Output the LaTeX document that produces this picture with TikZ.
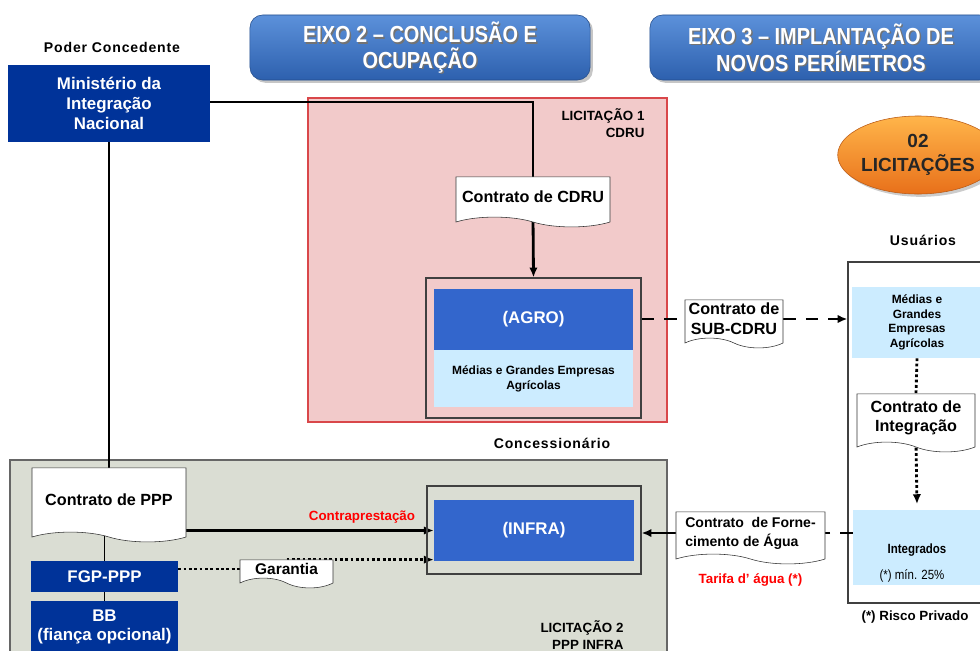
\documentclass[tikz,border=0pt]{standalone}
\usepackage{fontspec}
\setmainfont{Liberation Sans}
\newfontfamily\narrowfont[FakeStretch=0.86]{Liberation Sans}
\newfontfamily\widefont[LetterSpace=6]{Liberation Sans}
\usepackage{tikz}
\usetikzlibrary{positioning,arrows.meta,shapes.geometric,shapes.symbols,shadows}

\definecolor{mindark}{HTML}{003399}
\definecolor{agroblue}{HTML}{3366CC}
\definecolor{paleblue}{HTML}{CCECFF}
\definecolor{pinkfill}{HTML}{F2CACA}
\definecolor{pinkline}{HTML}{D9474A}
\definecolor{grayfill}{HTML}{DADDD3}
\definecolor{headtop}{HTML}{5C91DA}
\definecolor{headbot}{HTML}{2D60AE}
\definecolor{orgtop}{HTML}{FFB54A}
\definecolor{orgbot}{HTML}{E8701A}

\pgfdeclarelayer{bg}
\pgfdeclarelayer{lines}
\pgfsetlayers{bg,lines,main}

\tikzset{
  darkbox/.style={fill=mindark, text=white, align=center, inner sep=0pt,
    font=\bfseries\fontsize{12}{14}\selectfont},
  doc/.style={tape, tape bend top=none, tape bend bottom=out and in, tape bend height=7pt,
    draw=black!80, fill=white, align=center, inner sep=0pt,
    font=\bfseries\fontsize{11.5}{14}\selectfont},
  headbox/.style={rounded corners=9pt, top color=headtop, bottom color=headbot, draw=headbot!80!black,
    inner sep=0pt, drop shadow={opacity=.45, shadow xshift=2pt, shadow yshift=-2pt}},
  headtext/.style={text=white, align=center, font=\narrowfont\bfseries\fontsize{16.5}{18}\selectfont},
  headshadow/.style={headtext, text=black!55},
  frame/.style={draw=black!75, line width=.8pt, inner sep=0pt},
  pale/.style={fill=paleblue, align=center, inner sep=0pt},
  title/.style={font=\widefont\bfseries\fontsize{10}{12}\selectfont},
  lic/.style={align=right, font=\bfseries\fontsize{9.5}{12}\selectfont},
  redlabel/.style={text=red, font=\bfseries\fontsize{9.5}{11}\selectfont},
  thickline/.style={line width=2pt},
  thickarrow/.style={line width=2pt, -{Latex[length=7pt,width=6pt]}},
  dashedarrow/.style={line width=2pt, dash pattern=on 9pt off 7pt},
  dotline/.style={line width=2pt, dash pattern=on 2pt off 1.8pt},
}

\begin{document}
\begin{tikzpicture}[x=0.025cm, y=-0.025cm]
  \useasboundingbox (0,0) rectangle (980,651);

  % regions
  \begin{pgfonlayer}{bg}
    \draw[pinkline, fill=pinkfill, line width=.8pt] (308,98) rectangle (667,422);
    \draw[black!60, fill=grayfill, line width=.8pt] (10,460) rectangle (667,665);
    \node[frame, fill=white, minimum width=3.7cm, minimum height=8.525cm] (users) at (922,432.5) {};
  \end{pgfonlayer}

  % headers
  \node[headbox, minimum width=8.5cm, minimum height=1.625cm] (eixo2) at (420,47.5) {};
  \node[headshadow] (eixo2s) at (421.5,49) {EIXO 2 – CONCLUSÃO E\\OCUPAÇÃO};
  \node[headtext] (eixo2t) at (eixo2) {EIXO 2 – CONCLUSÃO E\\OCUPAÇÃO};
  \node[headbox, minimum width=8.55cm, minimum height=1.625cm] (eixo3) at (821,47.5) {};
  \node[headshadow] (eixo3s) at (822.5,49) {EIXO 3 – IMPLANTAÇÃO DE\\NOVOS PERÍMETROS};
  \node[headtext] (eixo3t) at (eixo3) {EIXO 3 – IMPLANTAÇÃO DE\\NOVOS PERÍMETROS};
  \node[ellipse, minimum width=3.4cm, minimum height=1.95cm, top color=orgtop, bottom color=orgbot,
    draw=orgbot!80!black, align=center, inner sep=0pt, text=black!85,
    font=\bfseries\fontsize{13.5}{17}\selectfont,
    drop shadow={opacity=.4, shadow xshift=2pt, shadow yshift=-2pt}] (licit) at (918,155)
    {02\\LICITAÇÕES};

  % poder concedente
  \node[darkbox, minimum width=5.05cm, minimum height=1.925cm] (min) at (109,103.5)
    {Ministério da\\Integração\\Nacional};
  \node[title] (poder) at (112,47) {Poder Concedente};

  % licitacao 1
  \node[lic] (lic1) at (603,123) {LICITAÇÃO 1\\CDRU};
  \node[doc, minimum width=3.85cm, minimum height=1.25cm] (cdru) at (533,197) {Contrato de CDRU};
  \node[frame, minimum width=5.375cm, minimum height=3.5cm] (agro) at (533.5,348) {};
  \node[fill=agroblue, text=white, inner sep=0pt, minimum width=4.975cm, minimum height=1.525cm,
    font=\bfseries\fontsize{12}{14}\selectfont] (agroin) at (533.5,319.5) {(AGRO)};
  \node[pale, minimum width=4.975cm, minimum height=1.425cm,
    font=\bfseries\fontsize{8.5}{10.5}\selectfont] (empresas) at (533.5,378.5)
    {Médias e Grandes Empresas\\Agrícolas};
  \node[title] (conc) at (552,443) {Concessionário};

  % usuarios
  \node[title] (usu) at (923,240) {Usuários};
  \node[pale, minimum width=3.25cm, minimum height=1.775cm,
    font=\bfseries\fontsize{8.5}{10.3}\selectfont] (medias) at (917,322.5)
    {Médias e\\Grandes\\Empresas\\Agrícolas};
  \node[doc, minimum width=2.95cm, minimum height=1.45cm] (integ) at (916,418)
    {Contrato de\\Integração};
  \node[pale, minimum width=3.2cm, minimum height=1.875cm] (integrados) at (917,547.5) {};
  \node[font=\narrowfont\bfseries\fontsize{9.5}{11}\selectfont] (intname) at (917,550) {Integrados};
  \node[font=\narrowfont\fontsize{9.5}{11}\selectfont] (intpct) at (912,576) {(*) mín. 25\%};
  \node[font=\bfseries\fontsize{9.5}{11}\selectfont] (risco) at (915,617) {(*) Risco Privado};

  \node[doc, minimum width=2.45cm, minimum height=1.2cm] (subcdru) at (734,319)
    {Contrato de\\SUB-CDRU};

  % licitacao 2
  \node[lic] (lic2) at (582,635) {LICITAÇÃO 2\\PPP INFRA};
  \node[doc, minimum width=3.85cm, minimum height=1.85cm] (ppp) at (109,500) {Contrato de PPP};
  \node[darkbox, minimum width=3.675cm, minimum height=.775cm] (fgp) at (104.5,576.5) {FGP-PPP};
  \node[darkbox, minimum width=3.675cm, minimum height=1.3cm] (bb) at (104.5,627)
    {BB\\(fiança opcional)};
  \node[doc, minimum width=2.325cm, minimum height=.7cm, font=\bfseries\fontsize{11}{13}\selectfont]
    (garantia) at (286.5,569) {Garantia};
  \node[frame, minimum width=5.35cm, minimum height=2.2cm] (infra) at (534,530) {};
  \node[fill=agroblue, text=white, inner sep=0pt, minimum width=5cm, minimum height=1.525cm,
    font=\bfseries\fontsize{12}{14}\selectfont] (infrain) at (534,530.5) {(INFRA)};
  \node[redlabel] (contra) at (362,517) {Contraprestação};
  \node[doc, align=left, minimum width=3.725cm, minimum height=1.3cm,
    font=\bfseries\fontsize{10}{13.5}\selectfont] (forn) at (750.5,533)
    {Contrato~~de Forne-\\cimento de Água};
  \node[redlabel, below=10pt of forn] (tarifa) {Tarifa d’ água (*)};

  % connectors
  \begin{pgfonlayer}{lines}
    \draw[thickline] (min.east |- 0,102) -- (533,102) -- (cdru.north);
    \draw[thickarrow] (cdru.south) -- (agro.north);
    \draw[thickline] (min.south) -- (min.south |- ppp.north);
    \draw[dashedarrow] (agro.east |- subcdru.west) -- (subcdru.west);
    \draw[dashedarrow, -{Latex[length=7pt,width=6pt]}] (subcdru.east) -- (subcdru.east -| users.west);
    \draw[dotline] (medias.south) -- (integ.north);
    \draw[dotline, -{Latex[length=7pt,width=6pt]}] (integ.south) -- ([yshift=4pt]integrados.north);
    \draw[dashedarrow] (integrados.west |- forn.east) -- (forn.east);
    \draw[thickarrow] (forn.west) -- (infra.east |- forn.west);
    \draw[thickarrow] (ppp.center |- infrain.west) -- (infrain.west);
    \draw[dotline, -{Latex[length=7pt,width=6pt]}] (garantia.north) -- (garantia.north -| infrain.west);
    \draw[dotline] (fgp.east |- garantia.west) -- (garantia.west);
    \draw[line width=.6pt] (fgp.north |- ppp.south) -- (fgp.north);
    \draw[line width=.6pt] (fgp.south) -- (bb.north);
  \end{pgfonlayer}
\end{tikzpicture}
\end{document}
